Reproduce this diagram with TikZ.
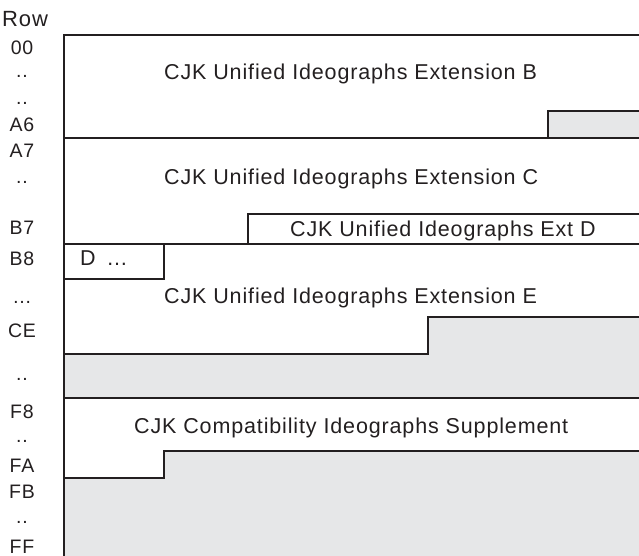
\documentclass[tikz,border=0pt]{standalone}
\usepackage{fontspec}
\setmainfont[LetterSpace=4]{Liberation Sans}
\definecolor{ink}{HTML}{231F20}
\definecolor{shade}{HTML}{E6E7E8}
\begin{document}
\begin{tikzpicture}[x=1bp,y=-1bp,
  rule/.style={draw=ink,line width=2.8bp,line join=miter},
  area/.style={fill=shade},
  blocklabel/.style={anchor=base west,inner sep=0pt,text=ink,font=\fontsize{21.5bp}{24bp}\selectfont},
  rowlabel/.style={anchor=base,inner sep=0pt,text=ink,font=\fontsize{19.5bp}{22bp}\selectfont}]
\useasboundingbox (0,0) rectangle (639,556);
% gray fills
\fill[area] (548,111) rectangle (639,138);
\fill[area] (64,354) -- (428,354) -- (428,317) -- (639,317) -- (639,398) -- (64,398) -- cycle;
\fill[area] (64,478) -- (164,478) -- (164,451) -- (639,451) -- (639,556) -- (64,556) -- cycle;
% coordinates
\coordinate (tl) at (64,35);
\coordinate (tr) at (639,35);
\coordinate (bl) at (64,556);
% rules
\draw[rule] (bl) -- (tl) -- (tr);
\draw[rule] (548,138) -- (548,111) -- (639,111);
\draw[rule] (64,138) -- (639,138);
\draw[rule] (639,214) -- (248,214) -- (248,244);
\draw[rule] (64,244) -- (639,244);
\draw[rule] (64,279) -- (164,279) -- (164,244);
\draw[rule] (64,354) -- (428,354) -- (428,317) -- (639,317);
\draw[rule] (64,398) -- (639,398);
\draw[rule] (639,451) -- (164,451) -- (164,478) -- (64,478);
% block labels
\node[blocklabel] (extb) at (164,80) {CJK Unified Ideographs Extension B};
\node[blocklabel] (extc) at (164,185) {CJK Unified Ideographs Extension C};
\node[blocklabel] (extd) at (290,237) {CJK Unified Ideographs Ext D};
\node[blocklabel] (dcont) at (80,265) {D\hspace{0.5em}\dots};
\node[blocklabel] (exte) at (164,303) {CJK Unified Ideographs Extension E};
\node[blocklabel] (compat) at (134,433) {CJK Compatibility Ideographs Supplement};
% row labels
\node[anchor=base west,inner sep=0pt,text=ink,font=\fontsize{22bp}{24bp}\selectfont] (row) at (2,27) {Row};
\node[rowlabel] (r00) at (22,55) {00};
\node[rowlabel] (d1) at (22,78) {..};
\node[rowlabel] (d2) at (22,105) {..};
\node[rowlabel] (ra6) at (22,132) {A6};
\node[rowlabel] (ra7) at (22,158) {A7};
\node[rowlabel] (d3) at (22,184) {..};
\node[rowlabel] (rb7) at (22,235) {B7};
\node[rowlabel] (rb8) at (22,265) {B8};
\node[rowlabel] (d4) at (22,303) {\dots};
\node[rowlabel] (rce) at (22,337) {CE};
\node[rowlabel] (d5) at (22,380) {..};
\node[rowlabel] (rf8) at (22,418) {F8};
\node[rowlabel] (d6) at (22,442) {..};
\node[rowlabel] (rfa) at (22,472) {FA};
\node[rowlabel] (rfb) at (22,498) {FB};
\node[rowlabel] (d7) at (22,523) {..};
\node[rowlabel] (rff) at (22,553) {FF};
\end{tikzpicture}
\end{document}
